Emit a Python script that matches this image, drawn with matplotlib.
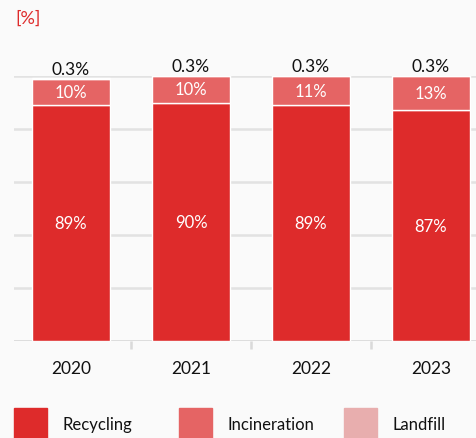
import matplotlib
matplotlib.use("Agg")
import matplotlib.pyplot as plt
from matplotlib.patches import Rectangle
import numpy as np

years = ["2020", "2021", "2022", "2023"]
recycling = [89, 90, 89, 87]
incineration = [10, 10, 11, 13]
landfill = [0.3, 0.3, 0.3, 0.3]
series_names = ["Recycling", "Incineration", "Landfill"]
colors = ["#DE2B2B", "#E56464", "#E8AEAE"]

plt.rcParams["font.family"] = ["Lato", "DejaVu Sans"]

W, H = 477, 439
fig = plt.figure(figsize=(W / 100, H / 100), dpi=100)
fig.patch.set_facecolor("#FAFAFA")

# plot area: x from 14 px to right edge, y from 77 px (100%) to 342 px (0%)
ax = fig.add_axes([14 / W, 1 - 342 / H, 1 - 14 / W, 265 / H])
ax.set_facecolor("#FAFAFA")
x = np.arange(len(years))
ax.set_xlim(-0.475, 3.383)
ax.set_ylim(0, 100)

for v in range(0, 101, 20):
    ax.axhline(v, color="#E2E2E2", lw=1.8, zorder=0)

width = 0.65
rec = np.array(recycling)
inc = np.array(incineration)
lf = np.array(landfill)
ax.bar(x, rec, width, color=colors[0], edgecolor="white", lw=1.0, zorder=2)
ax.bar(x, inc, width, bottom=rec, color=colors[1], edgecolor="white", lw=1.0, zorder=2)
ax.bar(x, lf, width, bottom=rec + inc, color=colors[2], edgecolor="white", lw=1.0, zorder=2)

for i in range(len(years)):
    ax.text(x[i], rec[i] / 2, f"{recycling[i]}%", ha="center", va="center",
            color="white", fontsize=12, zorder=3)
    ax.text(x[i], rec[i] + inc[i] / 2, f"{incineration[i]}%", ha="center", va="center",
            color="white", fontsize=12, zorder=3)
    ax.text(x[i], rec[i] + inc[i] + lf[i] + 0.4, f"{landfill[i]}%", ha="center",
            va="bottom", color="#111111", fontsize=12.5, zorder=3)

for s in ax.spines.values():
    s.set_visible(False)
ax.axhline(0, color="#DADADA", lw=1.8, zorder=1)
ax.set_yticks([])
ax.set_xticks(x)
ax.set_xticklabels(years, fontsize=12.5, color="#111111")
ax.tick_params(axis="x", length=0, pad=14)
ax.set_xticks(x[:-1] + 0.5, minor=True)
ax.tick_params(axis="x", which="minor", length=6, width=1.8, color="#DADADA")

fig.text(15 / W, 1 - 19 / H, "[%]", color="#DE2B2B", fontsize=13,
         ha="left", va="center")

# legend
legend_x = [14, 179, 344]
for i, name in enumerate(series_names):
    fig.patches.append(Rectangle((legend_x[i] / W, 1 - 440 / H), 33 / W, 31 / H,
                                 transform=fig.transFigure, color=colors[i]))
    fig.text((legend_x[i] + 49) / W, 1 - 425 / H, name, fontsize=12,
             color="#111111", ha="left", va="center")

fig.savefig("out.png", dpi=100, facecolor=fig.get_facecolor())
